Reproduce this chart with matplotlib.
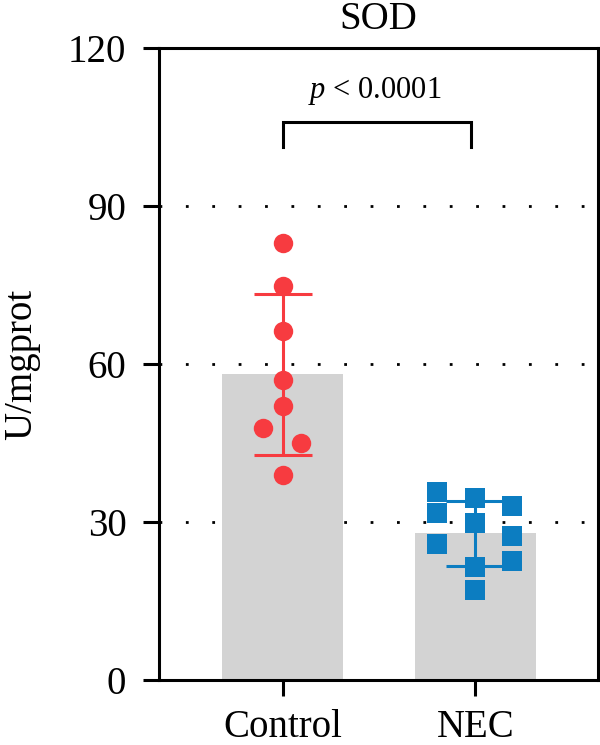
import numpy as np
import matplotlib
matplotlib.use("Agg")
import matplotlib.pyplot as plt

plt.rcParams["font.family"] = ["Liberation Serif", "DejaVu Serif"]
plt.rcParams["mathtext.fontset"] = "custom"
plt.rcParams["mathtext.rm"] = "Liberation Serif"
plt.rcParams["mathtext.it"] = "Liberation Serif:italic"

groups = ["Control", "NEC"]
control = [82.9, 74.8, 66.2, 56.9, 52.0, 47.8, 45.0, 38.9]
nec = [35.7, 34.5, 33.0, 31.7, 29.8, 27.3, 25.8, 22.6, 21.4, 17.1]
p_label = r"$p$ < 0.0001"
title = "SOD"
ylabel = "U/mgprot"
yticks = [0, 30, 60, 90, 120]

# horizontal scatter spread (layout only)
control_dx = [0, 0, 0, 0, 0, -0.104, 0.093, 0]
nec_dx = [-0.2, 0, 0.19, -0.2, 0, 0.19, -0.2, 0.19, 0, 0]

red = "#F73B40"
blue = "#0C7DC1"
grey = "#D3D3D3"

fig = plt.figure(figsize=(6, 7.45), dpi=100)
ax = fig.add_axes([0.265, 0.0872, 0.7317, 0.8483])

for y in yticks[1:-1]:
    ax.axhline(y, color="black", lw=2, linestyle=(0, (1, 8.5)), zorder=0)

series = [(control, control_dx, red, "o", 14), (nec, nec_dx, blue, "s", 15)]
for i, (vals, dx, color, marker, ms) in enumerate(series):
    vals = np.array(vals)
    mean = vals.mean()
    sd = vals.std(ddof=1)
    ax.bar(i, mean, width=0.627, color=grey, zorder=1)
    ax.plot(i + np.array(dx), vals, linestyle="none", marker=marker,
            markersize=ms, color=color, markeredgewidth=0, zorder=3)
    ax.errorbar(i, mean, yerr=sd, color=color, elinewidth=2.2, capsize=21,
                capthick=2.2, zorder=4)

# significance bracket
ax.plot([0, 0, 0.98, 0.98], [101.3, 106, 106, 101.3], color="black",
        lw=2.2, solid_joinstyle="miter", zorder=5)
ax.text(0.48, 110.6, p_label, ha="center", va="baseline", fontsize=22)

ax.set_xlim(-0.642, 1.637)
ax.set_ylim(0, 120)
ax.set_yticks(yticks)
ax.set_xticks([0, 1])
ax.set_xticklabels(groups)
ax.tick_params(axis="both", direction="out", length=11.5, width=2.2,
               labelsize=28, pad=12)
ax.tick_params(axis="x", pad=9)
for s in ax.spines.values():
    s.set_linewidth(2.2)
ax.set_ylabel(ylabel, fontsize=28, labelpad=20)
ax.set_title(title, fontsize=28, pad=14)

fig.savefig("out.png", dpi=100)
